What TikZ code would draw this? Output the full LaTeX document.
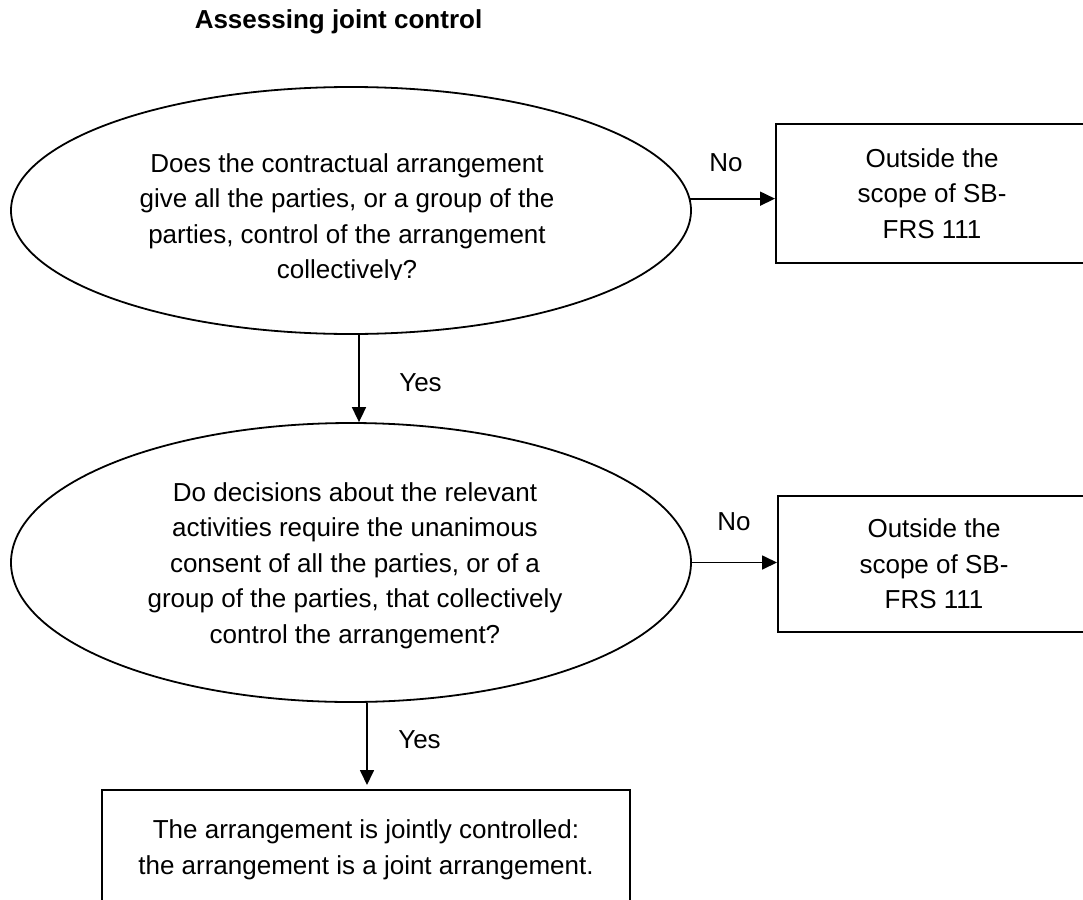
\documentclass[tikz,border=0pt]{standalone}
\usepackage{fontspec}
\setmainfont{Liberation Sans}
\usetikzlibrary{shapes.geometric,arrows.meta}
\begin{document}
\begin{tikzpicture}[x=1pt,y=-1pt,
  question/.style={ellipse,draw,line width=1.8pt,minimum width=680pt,minimum height=#1,inner sep=0pt},
  outbox/.style={rectangle,draw,line width=2pt,inner sep=0pt,align=center,font=\fontsize{26}{35.5}\selectfont},
  qtext/.style={align=center,inner sep=0pt,font=\fontsize{26}{35.5}\selectfont},
  lbl/.style={inner sep=0pt,font=\fontsize{26}{31}\selectfont},
  titlestyle/.style={inner sep=0pt,font=\fontsize{26}{31}\selectfont\bfseries},
  arr/.style={line width=1.7pt,-{Triangle[length=15pt,width=14pt]}}]
\clip (0,0) rectangle (1083,899);
\fill[white] (0,0) rectangle (1083,899);

\node[titlestyle] (title) at (338.5,21.5) {Assessing joint control};

% decision ellipses
\node[question=247pt] (q1) at (351,210.5) {};
\node[question=279pt] (q2) at (351,562.5) {};

\begin{scope}
  \clip (0,0) rectangle (1083,279.5);
  \node[qtext] (q1t) at (347,219) {Does the contractual arrangement\\give all the parties, or a group of the\\parties, control of the arrangement\\collectively?};
\end{scope}
\node[qtext] (q2t) at (355,565.5) {Do decisions about the relevant\\activities require the unanimous\\consent of all the parties, or of a\\group of the parties, that collectively\\control the arrangement?};

% outcome boxes (cut by the page edge)
\node[outbox,minimum width=312pt,minimum height=139pt] (o1) at (932,193.5) {Outside the\\scope of SB-\\FRS 111};
\node[outbox,minimum width=312pt,minimum height=136pt] (o2) at (934,564) {Outside the\\scope of SB-\\FRS 111};
\node[outbox,minimum width=528pt,minimum height=119.5pt] (r) at (366,849.75) {The arrangement is jointly controlled:\\the arrangement is a joint arrangement.};

% connectors
\draw[arr] (q1.2.5) -- (q1.2.5 -| o1.west);
\draw[arr] (q2.east) -- (q2.east -| o2.west);
\draw[arr] ([xshift=8pt]q1.south) -- ([xshift=8pt]q1.south |- q2.north);
\draw[arr,shorten >=4pt] ([xshift=16pt]q2.south) -- ([xshift=16pt]q2.south |- r.north);

% connector labels
\node[lbl] (no1) at (726,162.5) {No};
\node[lbl] (no2) at (734,522) {No};
\node[lbl] (yes1) at (420.5,382.5) {Yes};
\node[lbl] (yes2) at (419.5,739.5) {Yes};
\end{tikzpicture}
\end{document}
